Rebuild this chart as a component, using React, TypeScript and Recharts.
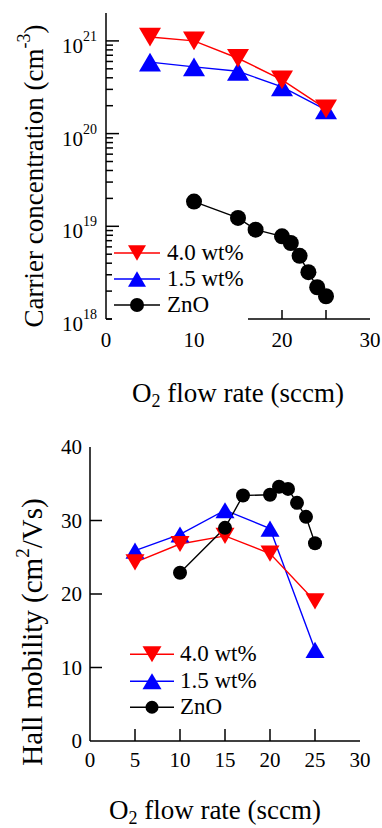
import React from "react";
import { LineChart, Line, XAxis, YAxis } from "recharts";

const FONT = "Liberation Serif, serif";

// O2 flow rates (sccm)
const dopedFlow = [5, 10, 15, 20, 25];
const znoFlow = [10, 15, 17, 20, 21, 22, 23, 24, 25];

// carrier concentration (cm^-3)
const conc40 = [1.1e21, 1.0e21, 6.5e20, 3.8e20, 1.85e20];
const conc15 = [5.9e20, 5.25e20, 4.7e20, 3.2e20, 1.8e20];
const concZnO = [1.85e19, 1.23e19, 9.2e18, 7.8e18, 6.6e18, 4.8e18, 3.2e18, 2.2e18, 1.76e18];

// Hall mobility (cm^2/Vs)
const mob40 = [24.3, 26.8, 27.9, 25.5, 19.0];
const mob15 = [25.9, 28.1, 31.4, 28.9, 12.4];
const mobZnO = [22.9, 29.0, 33.4, 33.5, 34.6, 34.3, 32.4, 30.5, 26.9];

const seriesNames = ["4.0 wt%", "1.5 wt%", "ZnO"];
const seriesColors = ["#ff0000", "#0000ff", "#000000"];

const decadeExps = [18, 19, 20, 21];
const minorMult = [2, 3, 4, 5, 6, 7, 8, 9];
const concTicks = decadeExps.flatMap((e) =>
  e === 21 ? [Math.pow(10, e)] : [Math.pow(10, e), ...minorMult.map((m) => m * Math.pow(10, e))]
);
const flowTicks = [0, 5, 10, 15, 20, 25, 30];
const mobTicks = [0, 10, 20, 30, 40];

const pts = (xs: number[], ys: number[]) => xs.map((x, i) => ({ x, y: ys[i] }));

const TriDown = ({ cx, cy, w, color }: any) => {
  const h = w * 0.85;
  return (
    <polygon
      points={`${cx - w / 2},${cy - h / 2} ${cx + w / 2},${cy - h / 2} ${cx},${cy + h / 2}`}
      fill={color}
    />
  );
};
const TriUp = ({ cx, cy, w, color }: any) => {
  const h = w * 0.85;
  return (
    <polygon
      points={`${cx - w / 2},${cy + h / 2} ${cx + w / 2},${cy + h / 2} ${cx},${cy - h / 2}`}
      fill={color}
    />
  );
};

const dotFn = (kind: string, size: number, color: string) => (p: any) => {
  const { cx, cy, index } = p;
  if (cx == null || cy == null) return <g key={index} />;
  if (kind === "down") return <TriDown key={index} cx={cx} cy={cy} w={size} color={color} />;
  if (kind === "up") return <TriUp key={index} cx={cx} cy={cy} w={size} color={color} />;
  return <circle key={index} cx={cx} cy={cy} r={size / 2} fill={color} />;
};

const axisLine = { stroke: "#000", strokeWidth: 1.5 };
const tickLine = (x1: number, y1: number, x2: number, y2: number) => (
  <line x1={x1} y1={y1} x2={x2} y2={y2} stroke="#000" strokeWidth={1.5} />
);

const isDecade = (v: number) => {
  const e = Math.log10(v);
  return Math.abs(e - Math.round(e)) < 1e-6;
};

const LogTickLeft = ({ x, y, payload }: any) => {
  const v = payload.value;
  const major = isDecade(v);
  return (
    <g>
      {tickLine(x, y, x + (major ? 13 : 7), y)}
      {major && (
        <text x={x - 9} y={y + 12} textAnchor="end" fontFamily={FONT} fontSize={21} fill="#000">
          <tspan>10</tspan>
          <tspan dy={-12} fontSize={14}>{Math.round(Math.log10(v))}</tspan>
        </text>
      )}
    </g>
  );
};
const LogTickRight = ({ x, y, payload }: any) => {
  const major = isDecade(payload.value);
  return <g>{tickLine(x, y, x - (major ? 13 : 7), y)}</g>;
};

const FlowTickBottom = (labelEvery: number, len: number, dy: number) => ({ x, y, payload }: any) => {
  const v = payload.value;
  const edge = v === 0 || v === 30;
  return (
    <g>
      {!edge && tickLine(x, y, x, y - len)}
      {v % labelEvery === 0 && (
        <text x={x} y={y + dy} textAnchor="middle" fontFamily={FONT} fontSize={21} fill="#000">
          {v}
        </text>
      )}
    </g>
  );
};
const FlowTickTop = ({ x, y, payload }: any) => {
  const v = payload.value;
  if (v === 0 || v === 30) return <g />;
  return <g>{tickLine(x, y, x, y + 11)}</g>;
};

const MobTickLeft = ({ x, y, payload }: any) => {
  const v = payload.value;
  const edge = v === 0 || v === 40;
  return (
    <g>
      {!edge && tickLine(x, y, x + 12, y)}
      <text x={x - 8} y={y + 7} textAnchor="end" fontFamily={FONT} fontSize={21} fill="#000">
        {v}
      </text>
    </g>
  );
};
const MobTickRight = ({ x, y, payload }: any) => {
  const v = payload.value;
  if (v === 0 || v === 40) return <g />;
  return <g>{tickLine(x, y, x - 12, y)}</g>;
};

const XLabel = (cx: number, y: number) => () => (
  <text x={cx} y={y} textAnchor="middle" fontFamily={FONT} fontSize={27} fill="#000">
    <tspan>O</tspan>
    <tspan fontSize={18} dy={5}>2</tspan>
    <tspan dy={-5}> flow rate (sccm)</tspan>
  </text>
);

const YLabel = (bx: number, cy: number, size: number, pre: string, sup: string, post: string) => () => (
  <text
    x={bx}
    y={cy}
    transform={`rotate(-90, ${bx}, ${cy})`}
    textAnchor="middle"
    fontFamily={FONT}
    fontSize={size}
    fill="#000"
  >
    <tspan>{pre}</tspan>
    <tspan fontSize={Math.round(size * 0.67)} dy={-13}>{sup}</tspan>
    <tspan dy={13}>{post}</tspan>
  </text>
);

const LegendBox = ({ left, top, rowH, lineW, textGap, tri, circ, bg }: any) => (
  <div
    style={{
      position: "absolute",
      left,
      top,
      background: bg ? "#fff" : "transparent",
      fontFamily: FONT,
      fontSize: 23,
      lineHeight: `${rowH}px`,
      color: "#000",
      padding: "2px 4px 2px 2px",
    }}
  >
    {seriesNames.map((name, i) => (
      <div key={name} style={{ display: "flex", alignItems: "center", height: rowH }}>
        <svg width={lineW} height={rowH} style={{ display: "block" }}>
          <line x1={0} x2={lineW} y1={rowH / 2} y2={rowH / 2} stroke={seriesColors[i]} strokeWidth={1.5} />
          {i === 0 && <TriDown cx={lineW / 2} cy={rowH / 2} w={tri} color={seriesColors[i]} />}
          {i === 1 && <TriUp cx={lineW / 2} cy={rowH / 2} w={tri} color={seriesColors[i]} />}
          {i === 2 && <circle cx={lineW / 2} cy={rowH / 2} r={circ / 2} fill={seriesColors[i]} />}
        </svg>
        <span style={{ marginLeft: textGap }}>{name}</span>
      </div>
    ))}
  </div>
);

function ConcentrationPanel() {
  return (
    <div style={{ position: "absolute", left: 0, top: 0, width: 382, height: 420 }}>
      <LineChart width={382} height={420} margin={{ top: 13, right: 12, bottom: 71, left: 0 }}>
        <XAxis
          dataKey="x"
          type="number"
          domain={[0, 30]}
          ticks={flowTicks}
          interval={0}
          height={30}
          tickSize={0}
          tickMargin={0}
          axisLine={axisLine}
          tickLine={false}
          tick={FlowTickBottom(10, 9, 28)}
          label={{ content: XLabel(238, 402) }}
        />
        <XAxis
          xAxisId="top"
          orientation="top"
          type="number"
          domain={[0, 30]}
          ticks={flowTicks}
          interval={0}
          height={0}
          tickSize={0}
          tickMargin={0}
          axisLine={axisLine}
          tickLine={false}
          tick={FlowTickTop}
          allowDataOverflow
        />
        <YAxis
          type="number"
          scale="log"
          domain={[1e18, 2e21]}
          ticks={concTicks}
          interval={0}
          width={106}
          tickSize={0}
          tickMargin={0}
          axisLine={axisLine}
          tickLine={false}
          tick={LogTickLeft}
          allowDataOverflow
          label={{ content: YLabel(43, 176, 27, "Carrier concentration (cm", "-3", ")") }}
        />
        <YAxis
          yAxisId="right"
          orientation="right"
          type="number"
          scale="log"
          domain={[1e18, 2e21]}
          ticks={concTicks}
          interval={0}
          width={0}
          tickSize={0}
          tickMargin={0}
          axisLine={axisLine}
          tickLine={false}
          tick={LogTickRight}
          allowDataOverflow
        />
        <Line data={pts(dopedFlow, conc15)} dataKey="y" stroke={seriesColors[1]} strokeWidth={1.4} dot={dotFn("up", 22, seriesColors[1])} isAnimationActive={false} />
        <Line data={pts(dopedFlow, conc40)} dataKey="y" stroke={seriesColors[0]} strokeWidth={1.4} dot={dotFn("down", 22, seriesColors[0])} isAnimationActive={false} />
        <Line data={pts(znoFlow, concZnO)} dataKey="y" stroke={seriesColors[2]} strokeWidth={1.4} dot={dotFn("circle", 16, seriesColors[2])} isAnimationActive={false} />
      </LineChart>
      <LegendBox left={112} top={238} rowH={26} lineW={46} textGap={7} tri={18} circ={14} bg />
    </div>
  );
}

function MobilityPanel() {
  return (
    <div style={{ position: "absolute", left: 0, top: 420, width: 382, height: 408 }}>
      <LineChart width={382} height={408} margin={{ top: 27, right: 22, bottom: 57, left: 0 }}>
        <XAxis
          dataKey="x"
          type="number"
          domain={[0, 30]}
          ticks={flowTicks}
          interval={0}
          height={30}
          tickSize={0}
          tickMargin={0}
          axisLine={axisLine}
          tickLine={false}
          tick={FlowTickBottom(5, 12, 26)}
          label={{ content: XLabel(215, 399) }}
        />
        <XAxis
          xAxisId="top"
          orientation="top"
          type="number"
          domain={[0, 30]}
          ticks={flowTicks}
          interval={0}
          height={0}
          tickSize={0}
          tickMargin={0}
          axisLine={axisLine}
          tickLine={false}
          tick={FlowTickTop}
          allowDataOverflow
        />
        <YAxis
          type="number"
          domain={[0, 40]}
          ticks={mobTicks}
          interval={0}
          width={90}
          tickSize={0}
          tickMargin={0}
          axisLine={axisLine}
          tickLine={false}
          tick={MobTickLeft}
          allowDataOverflow
          label={{ content: YLabel(42, 212, 29, "Hall mobility (cm", "2", "/Vs)") }}
        />
        <YAxis
          yAxisId="right"
          orientation="right"
          type="number"
          domain={[0, 40]}
          ticks={mobTicks}
          interval={0}
          width={0}
          tickSize={0}
          tickMargin={0}
          axisLine={axisLine}
          tickLine={false}
          tick={MobTickRight}
          allowDataOverflow
        />
        <Line data={pts(dopedFlow, mob15)} dataKey="y" stroke={seriesColors[1]} strokeWidth={1.4} dot={dotFn("up", 19, seriesColors[1])} isAnimationActive={false} />
        <Line data={pts(dopedFlow, mob40)} dataKey="y" stroke={seriesColors[0]} strokeWidth={1.4} dot={dotFn("down", 19, seriesColors[0])} isAnimationActive={false} />
        <Line data={pts(znoFlow, mobZnO)} dataKey="y" stroke={seriesColors[2]} strokeWidth={1.4} dot={dotFn("circle", 14, seriesColors[2])} isAnimationActive={false} />
      </LineChart>
      <LegendBox left={128} top={219} rowH={26.5} lineW={44} textGap={6} tri={19} circ={13} />
    </div>
  );
}

export default function App() {
  return (
    <div style={{ position: "absolute", left: 0, top: 0, width: 382, height: 828, background: "#fff" }}>
      <ConcentrationPanel />
      <MobilityPanel />
    </div>
  );
}
